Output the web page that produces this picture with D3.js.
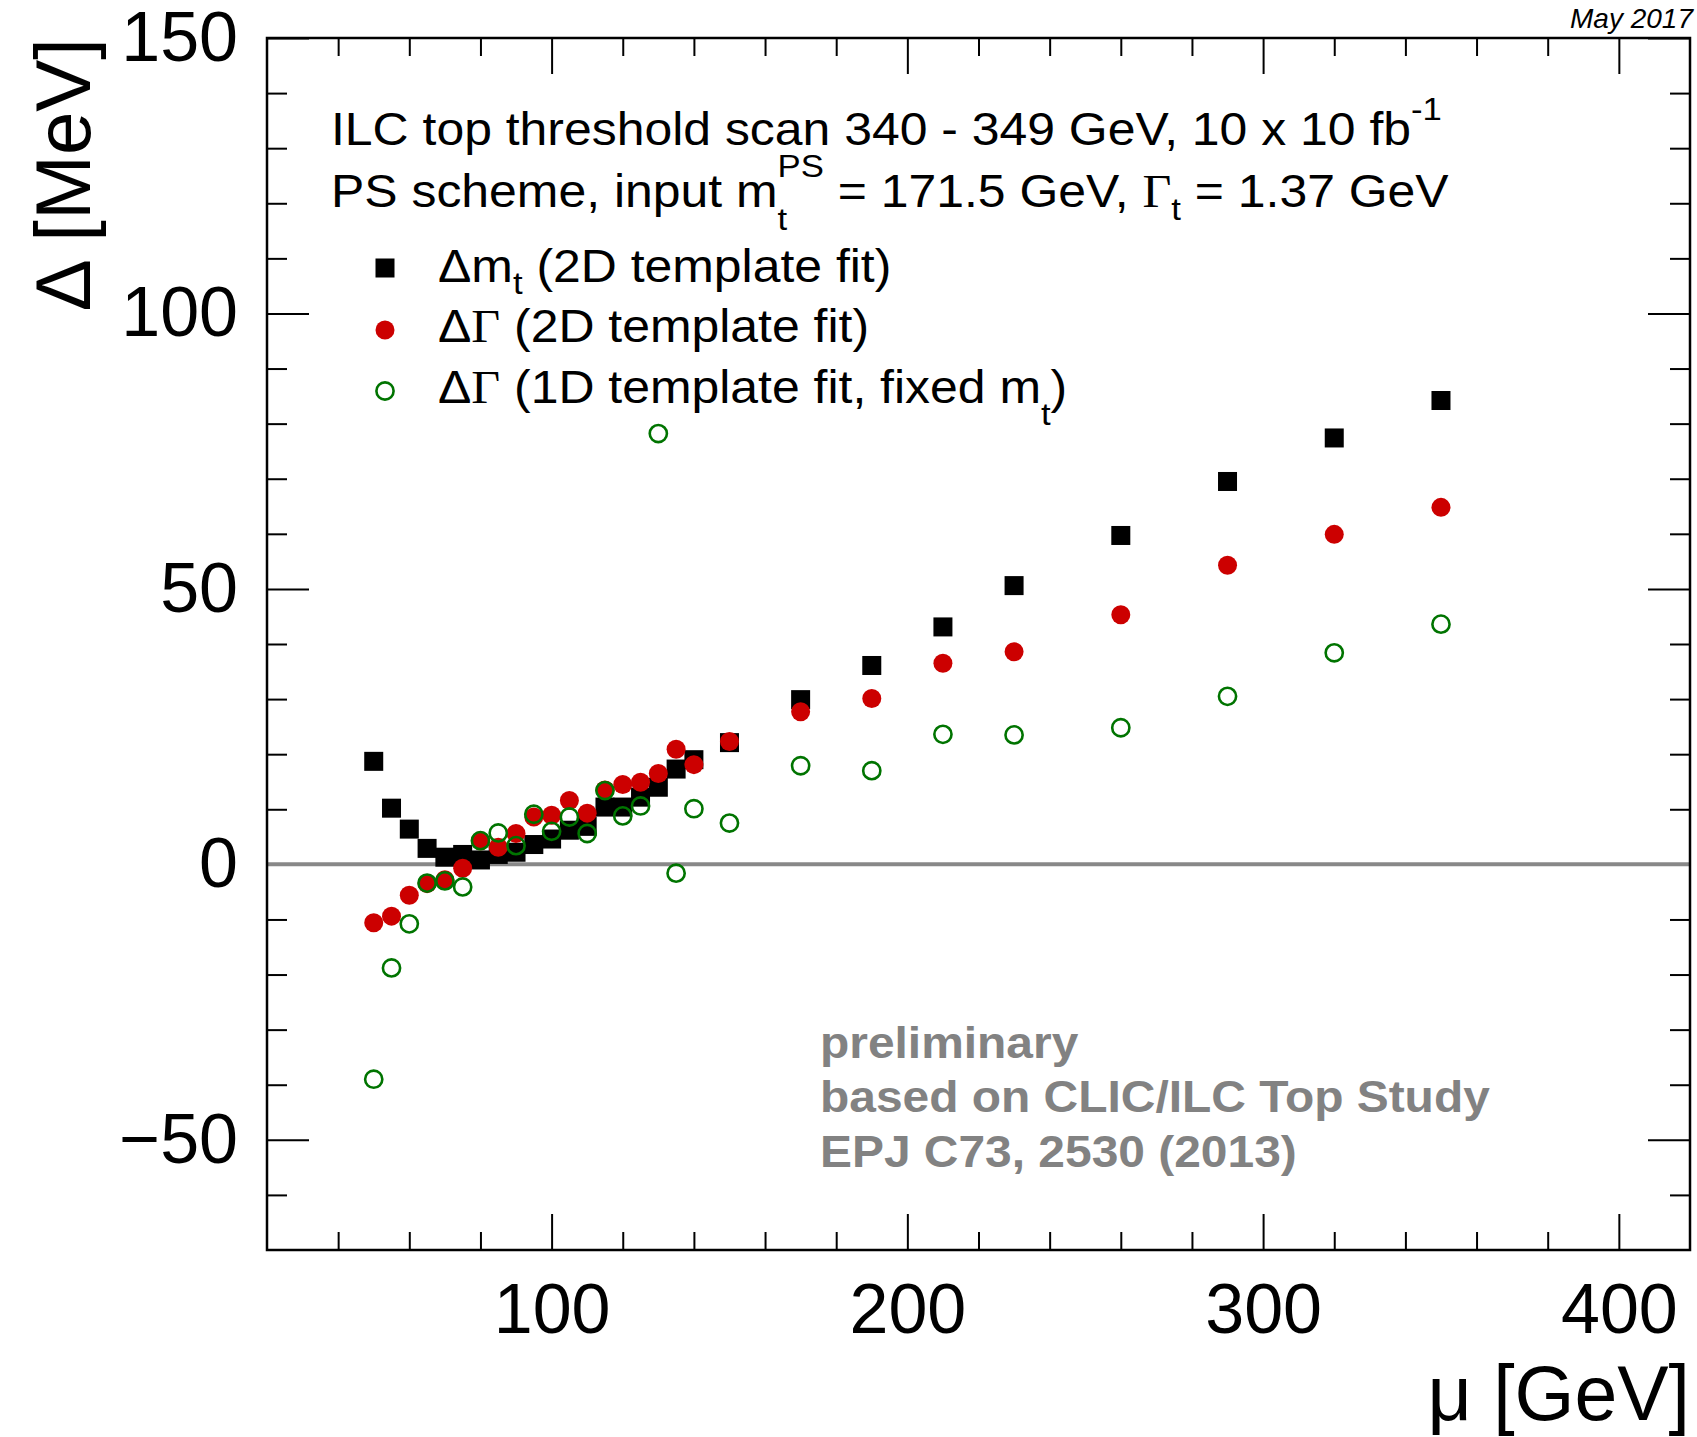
<!DOCTYPE html>
<html>
<head>
<meta charset="utf-8">
<script src="https://cdn.jsdelivr.net/npm/d3@7"></script>
<style>
  body { margin: 0; background: #fff; }
  svg { display: block; }
  text { font-family: 'Liberation Sans', Arial, Helvetica, sans-serif; }
</style>
</head>
<body>
<div id="chart"></div>
<script>
// scan points (mu in GeV) and deviations (MeV)
const muValues = [50, 55, 60, 65, 70, 75, 80, 85, 90, 95, 100, 105, 110, 115, 120, 125, 130, 135, 140, 150, 170, 190, 210, 230, 260, 290, 320, 350]
const deltaMt2D = [18.7, 10.2, 6.4, 2.9, 1.3, 1.8, 0.8, 1.8, 2.2, 3.6, 4.6, 6.2, 6.9, 10.4, 10.4, 12.2, 14.0, 17.3, 19.0, 22.1, 29.9, 36.1, 43.1, 50.6, 59.7, 69.5, 77.4, 84.2]
const deltaGamma2D = [-10.6, -9.4, -5.6, -3.5, -2.8, -0.7, 4.3, 3.1, 5.6, 8.6, 8.9, 11.6, 9.3, 13.5, 14.5, 14.9, 16.5, 20.9, 18.1, 22.3, 27.7, 30.1, 36.5, 38.6, 45.3, 54.3, 59.9, 64.8]
const deltaGamma1D = [-39.0, -18.8, -10.8, -3.4, -3.0, -4.1, 4.3, 5.7, 3.4, 9.1, 6.0, 8.6, 5.6, 13.4, 8.8, 10.6, 78.2, -1.6, 10.1, 7.5, 17.9, 17.0, 23.6, 23.5, 24.8, 30.5, 38.4, 43.6]

const xMajor = [100, 200, 300, 400]
const xMinor = [40, 60, 80, 120, 140, 160, 180, 220, 240, 260, 280, 320, 340, 360, 380]
const yMajor = [-50, 0, 50, 100, 150]
const yMinor = [-60, -40, -30, -20, -10, 10, 20, 30, 40, 60, 70, 80, 90, 110, 120, 130, 140]

const W = 1697
const H = 1437
const frame = { left: 267, right: 1690, top: 38, bottom: 1250 }

const RED = '#cc0000'
const GREEN = '#007400'
const GREY = '#888888'

const svg = d3.select('#chart').append('svg')
  .attr('width', W)
  .attr('height', H)

svg.append('rect').attr('width', W).attr('height', H).attr('fill', '#fff')

const x = d3.scaleLinear().domain([20, 420]).range([frame.left, frame.right])
const y = d3.scaleLinear().domain([-70, 150]).range([frame.bottom, frame.top])

// ticks on all four sides, pointing inward (ROOT style)
function addAxis (axis, transform, values, size, labelled, pad) {
  const g = svg.append('g')
    .attr('transform', transform)
    .call(axis.tickValues(values).tickSizeInner(size).tickSizeOuter(0).tickPadding(pad || 0)
      .tickFormat(labelled ? d3.format('') : ''))
  g.select('.domain').remove()
  g.selectAll('.tick line').attr('stroke', '#000').attr('stroke-width', 2)
  g.selectAll('.tick text')
    .attr('fill', '#000')
    .style('font-size', '70px')
    .style('font-family', "'Liberation Sans', Arial, sans-serif")
  return g
}

addAxis(d3.axisBottom(x), `translate(0,${frame.bottom})`, xMajor, -36, true, 33)
addAxis(d3.axisBottom(x), `translate(0,${frame.bottom})`, xMinor, -18, false)
addAxis(d3.axisTop(x), `translate(0,${frame.top})`, xMajor, -36, false)
addAxis(d3.axisTop(x), `translate(0,${frame.top})`, xMinor, -18, false)
addAxis(d3.axisLeft(y), `translate(${frame.left},0)`, yMajor, -42, true, 29)
addAxis(d3.axisLeft(y), `translate(${frame.left},0)`, yMinor, -20, false)
addAxis(d3.axisRight(y), `translate(${frame.right},0)`, yMajor, -42, false)
addAxis(d3.axisRight(y), `translate(${frame.right},0)`, yMinor, -20, false)

// zero line
svg.append('line')
  .attr('x1', x(20)).attr('x2', x(420))
  .attr('y1', y(0)).attr('y2', y(0))
  .attr('stroke', GREY)
  .attr('stroke-width', 4)

svg.append('rect')
  .attr('x', frame.left).attr('y', frame.top)
  .attr('width', frame.right - frame.left)
  .attr('height', frame.bottom - frame.top)
  .attr('fill', 'none')
  .attr('stroke', '#000')
  .attr('stroke-width', 2.5)

// markers
const points = vals => muValues.map((m, i) => [m, vals[i]])
const SQ = 19

svg.append('g').selectAll('rect')
  .data(points(deltaMt2D))
  .join('rect')
  .attr('x', d => x(d[0]) - SQ / 2)
  .attr('y', d => y(d[1]) - SQ / 2)
  .attr('width', SQ)
  .attr('height', SQ)
  .attr('fill', '#000')

svg.append('g').selectAll('circle')
  .data(points(deltaGamma2D))
  .join('circle')
  .attr('cx', d => x(d[0]))
  .attr('cy', d => y(d[1]))
  .attr('r', 9.5)
  .attr('fill', RED)

svg.append('g').selectAll('circle')
  .data(points(deltaGamma1D))
  .join('circle')
  .attr('cx', d => x(d[0]))
  .attr('cy', d => y(d[1]))
  .attr('r', 8.6)
  .attr('fill', 'none')
  .attr('stroke', GREEN)
  .attr('stroke-width', 2.6)

// text with sub/superscripts; parts: [text, size, shift, opts]
// the ROOT Helvetica is a bit wider than Liberation Sans, hence the x stretch
const STRETCH = 1.085
function rich (px, py, parts) {
  const g = svg.append('g').attr('transform', `translate(${px},${py}) scale(${STRETCH},1)`)
  let cx = 0
  let stackW = 0
  parts.forEach(([str, size, shift, opts = {}]) => {
    const t = g.append('text')
      .attr('x', cx)
      .attr('y', shift || 0)
      .style('font-size', size + 'px')
      .style('white-space', 'pre')
      .attr('fill', '#000')
      .text(str)
    if (opts.serif) t.style('font-family', "'Liberation Serif', 'DejaVu Serif', serif")
    const w = t.node().getComputedTextLength()
    if (opts.stack) {
      stackW = w
    } else {
      cx += Math.max(w, stackW)
      stackW = 0
    }
  })
  return g
}

const F = 46
const S = 32
rich(331, 145, [['ILC top threshold scan 340 - 349 GeV, 10 x 10 fb', F], ['-1', S, -25]])
rich(331, 207, [
  ['PS scheme, input m', F], ['PS', S, -30, { stack: true }], ['t', S, 23],
  [' = 171.5 GeV, ', F], ['Γ', F, 0, { serif: true }], ['t', S, 13], [' = 1.37 GeV', F]
])
rich(438, 282, [['Δm', F], ['t', S, 12], [' (2D template fit)', F]])
rich(438, 342, [['Δ', F], ['Γ', F, 0, { serif: true }], [' (2D template fit)', F]])
rich(438, 403, [['Δ', F], ['Γ', F, 0, { serif: true }], [' (1D template fit, fixed m', F], ['t', S, 22], [')', F]])

// legend markers
svg.append('rect')
  .attr('x', 385 - SQ / 2).attr('y', 268 - SQ / 2)
  .attr('width', SQ).attr('height', SQ)
  .attr('fill', '#000')
svg.append('circle').attr('cx', 385).attr('cy', 330).attr('r', 9.5).attr('fill', RED)
svg.append('circle').attr('cx', 385).attr('cy', 391).attr('r', 8.6)
  .attr('fill', 'none').attr('stroke', GREEN).attr('stroke-width', 2.6)

// preliminary note
const note = ['preliminary', 'based on CLIC/ILC Top Study', 'EPJ C73, 2530 (2013)']
svg.append('g')
  .attr('transform', 'translate(820,1058) scale(1.065,1)')
  .selectAll('text')
  .data(note)
  .join('text')
  .attr('x', 0)
  .attr('y', (d, i) => i * 54.5)
  .attr('fill', '#828282')
  .style('font-size', '45px')
  .style('font-weight', 'bold')
  .text(d => d)

// axis titles
svg.append('text')
  .attr('x', frame.right)
  .attr('y', 1420)
  .attr('text-anchor', 'end')
  .style('font-size', '77px')
  .text('μ [GeV]')

svg.append('text')
  .attr('transform', `translate(90,${frame.top}) rotate(-90)`)
  .attr('text-anchor', 'end')
  .style('font-size', '78px')
  .text('Δ [MeV]')

svg.append('text')
  .attr('x', 1693)
  .attr('y', 28)
  .attr('text-anchor', 'end')
  .style('font-size', '28px')
  .style('font-style', 'italic')
  .text('May 2017')
</script>
</body>
</html>
